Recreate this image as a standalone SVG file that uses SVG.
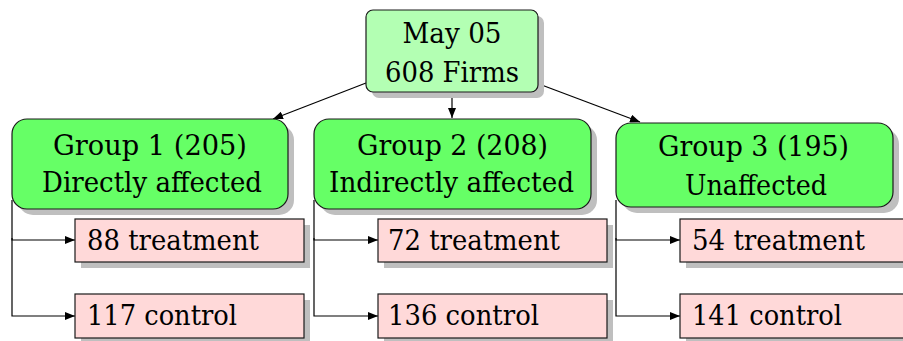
<svg xmlns="http://www.w3.org/2000/svg" width="903" height="341" viewBox="0 0 903 341">
  <style>
    .shadow { fill: #bfbfbf; }
    .root { fill: #b3ffb3; stroke: #1a1a1a; stroke-width: 1.2; }
    .grp { fill: #66ff66; stroke: #1a1a1a; stroke-width: 1.2; }
    .leaf { fill: #ffd9d9; stroke: #1a1a1a; stroke-width: 1.2; }
    .t { font-family: "DejaVu Serif", "Liberation Serif", serif; font-size: 28px; fill: #000; }
    .edge { fill: none; stroke: #000; stroke-width: 1.2; marker-end: url(#arr); }
  </style>
  <defs>
    <marker id="arr" viewBox="0 0 10 8" refX="10" refY="4" markerWidth="10" markerHeight="8" markerUnits="userSpaceOnUse" orient="auto">
      <path d="M0,0 L10,4 L0,8 Z" fill="#000"/>
    </marker>
  </defs>

  <g id="connectors">
    <line class="edge" x1="366" y1="83" x2="273" y2="119"/>
    <line class="edge" x1="452" y1="92" x2="452" y2="118"/>
    <line class="edge" x1="539" y1="84" x2="640" y2="122"/>
    <path class="edge" d="M12,200 V240 H75"/>
    <path class="edge" d="M12,238 V316 H75"/>
    <path class="edge" d="M314,200 V240 H378"/>
    <path class="edge" d="M314,238 V316 H378"/>
    <path class="edge" d="M616,200 V240 H680"/>
    <path class="edge" d="M616,238 V316 H680"/>
  </g>

  <g id="root">
    <rect class="shadow" x="372" y="16" width="172" height="82" rx="7"/>
    <rect class="root" x="366" y="10" width="172" height="82" rx="7"/>
    <text class="t" x="402.5" y="43" textLength="99" lengthAdjust="spacingAndGlyphs">May 05</text>
    <text class="t" x="385" y="82" textLength="134" lengthAdjust="spacingAndGlyphs">608 Firms</text>
  </g>

  <g id="group1">
    <rect class="shadow" x="18" y="125" width="276" height="90" rx="15"/>
    <rect class="grp" x="12" y="119" width="276" height="90" rx="15"/>
    <text class="t" x="53" y="155" textLength="194" lengthAdjust="spacingAndGlyphs">Group 1 (205)</text>
    <text class="t" x="42" y="192" textLength="220" lengthAdjust="spacingAndGlyphs">Directly affected</text>
  </g>
  <g id="g1treat">
    <rect class="shadow" x="81" y="225" width="229" height="43"/>
    <rect class="leaf" x="75" y="219" width="229" height="43"/>
    <text class="t" x="87" y="250" textLength="172" lengthAdjust="spacingAndGlyphs">88 treatment</text>
  </g>
  <g id="g1control">
    <rect class="shadow" x="81" y="300" width="229" height="44"/>
    <rect class="leaf" x="75" y="294" width="229" height="44"/>
    <text class="t" x="87" y="325" textLength="150" lengthAdjust="spacingAndGlyphs">117 control</text>
  </g>

  <g id="group2">
    <rect class="shadow" x="320" y="125" width="277" height="90" rx="15"/>
    <rect class="grp" x="314" y="119" width="277" height="90" rx="15"/>
    <text class="t" x="357" y="155" textLength="191" lengthAdjust="spacingAndGlyphs">Group 2 (208)</text>
    <text class="t" x="329" y="192" textLength="245" lengthAdjust="spacingAndGlyphs">Indirectly affected</text>
  </g>
  <g id="g2treat">
    <rect class="shadow" x="384" y="225" width="229" height="43"/>
    <rect class="leaf" x="378" y="219" width="229" height="43"/>
    <text class="t" x="388" y="250" textLength="172" lengthAdjust="spacingAndGlyphs">72 treatment</text>
  </g>
  <g id="g2control">
    <rect class="shadow" x="384" y="300" width="229" height="44"/>
    <rect class="leaf" x="378" y="294" width="229" height="44"/>
    <text class="t" x="388" y="325" textLength="151" lengthAdjust="spacingAndGlyphs">136 control</text>
  </g>

  <g id="group3">
    <rect class="shadow" x="622" y="129" width="277" height="84" rx="15"/>
    <rect class="grp" x="616" y="123" width="277" height="84" rx="15"/>
    <text class="t" x="658" y="156" textLength="191" lengthAdjust="spacingAndGlyphs">Group 3 (195)</text>
    <text class="t" x="685" y="195" textLength="142" lengthAdjust="spacingAndGlyphs">Unaffected</text>
  </g>
  <g id="g3treat">
    <rect class="shadow" x="686" y="225" width="229" height="43"/>
    <rect class="leaf" x="680" y="219" width="229" height="43"/>
    <text class="t" x="692" y="250" textLength="173" lengthAdjust="spacingAndGlyphs">54 treatment</text>
  </g>
  <g id="g3control">
    <rect class="shadow" x="686" y="300" width="229" height="44"/>
    <rect class="leaf" x="680" y="294" width="229" height="44"/>
    <text class="t" x="692" y="325" textLength="150" lengthAdjust="spacingAndGlyphs">141 control</text>
  </g>
</svg>
